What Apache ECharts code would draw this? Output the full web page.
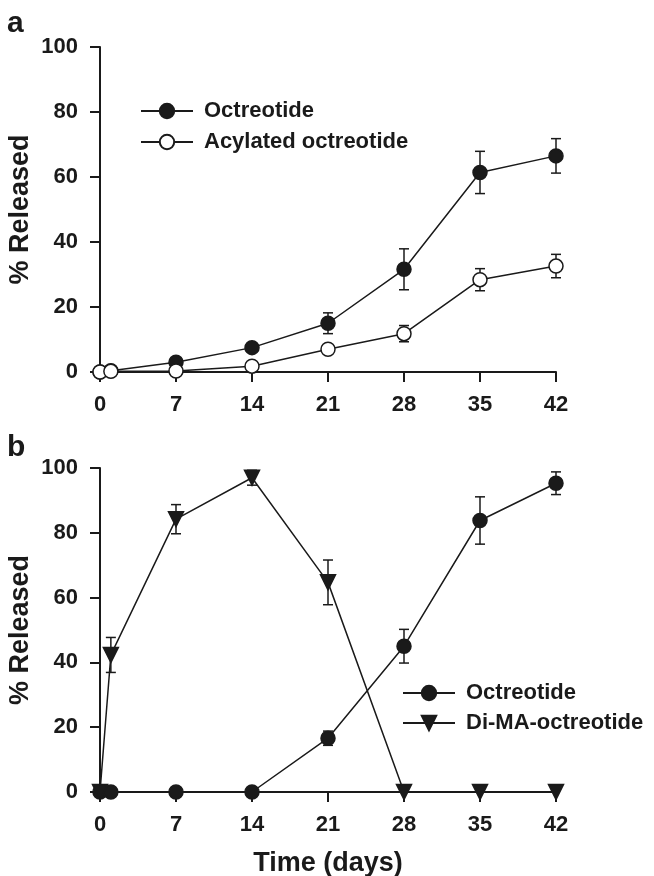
<!DOCTYPE html>
<html>
<head>
<meta charset="utf-8">
<script src="https://cdn.jsdelivr.net/npm/echarts@6/dist/echarts.min.js"></script>
<style>
  html, body { margin: 0; padding: 0; background: #fff; }
  #main { width: 654px; height: 876px; }
</style>
</head>
<body>
<div id="main"></div>
<script>
// days sampled (same for both panels)
var days = [0, 1, 7, 14, 21, 28, 35, 42];

// panel a
var octA = [0, 0.4, 3.0, 7.5, 15.0, 31.6, 61.4, 66.5];
var octAErr = [0, 0, 0.6, 1.0, 3.2, 6.3, 6.5, 5.3];
var acyA = [0, 0.2, 0.3, 1.8, 7.0, 11.8, 28.4, 32.6];
var acyAErr = [0, 0, 0, 0.5, 1.0, 2.5, 3.4, 3.6];

// panel b
var octB = [0, 0, 0, 0, 16.6, 45.0, 83.8, 95.3];
var octBErr = [0, 0, 0, 0, 2.2, 5.2, 7.3, 3.5];
var diB = [0, 42.3, 84.2, 97.0, 64.7, 0, 0, 0];
var diBErr = [0, 5.4, 4.5, 2.3, 6.9, 0, 0, 0];

var fontFam = '"Liberation Sans", Arial, sans-serif';
var ink = '#1a1a1a';

function pts(ys) {
    return days.map(function (d, i) { return [d, ys[i]]; });
}
function errPts(ys, es) {
    var out = [];
    days.forEach(function (d, i) {
        if (es[i] > 0) out.push([d, ys[i] - es[i], ys[i] + es[i]]);
    });
    return out;
}

// error bars drawn with the axis scales
function errRender(params, api) {
    var lo = api.coord([api.value(0), api.value(1)]);
    var hi = api.coord([api.value(0), api.value(2)]);
    var w = 5;
    var st = { stroke: ink, lineWidth: 1.5 };
    return {
        type: 'group',
        children: [
            { type: 'line', shape: { x1: lo[0], y1: lo[1], x2: hi[0], y2: hi[1] }, style: st },
            { type: 'line', shape: { x1: lo[0] - w, y1: lo[1], x2: lo[0] + w, y2: lo[1] }, style: st },
            { type: 'line', shape: { x1: hi[0] - w, y1: hi[1], x2: hi[0] + w, y2: hi[1] }, style: st }
        ]
    };
}

function xAx(idx, withName) {
    var ax = {
        type: 'value', gridIndex: idx, min: 0, max: 42, interval: 7,
        axisLine: { show: true, lineStyle: { color: ink, width: 2 } },
        axisTick: { show: true, length: 10, lineStyle: { color: ink, width: 2 } },
        axisLabel: { color: ink, fontSize: 22, fontWeight: 'bold', fontFamily: fontFam, margin: 22 },
        splitLine: { show: false }
    };
    if (withName) {
        ax.name = 'Time (days)';
        ax.nameLocation = 'middle';
        ax.nameGap = 58;
        ax.nameMoveOverlap = false;
        ax.nameTextStyle = { color: ink, fontSize: 27, fontWeight: 'bold', fontFamily: fontFam };
    }
    return ax;
}
function yAx(idx) {
    return {
        type: 'value', gridIndex: idx, min: 0, max: 100, interval: 20,
        name: '% Released', nameLocation: 'middle', nameGap: 66, nameRotate: 90,
        nameMoveOverlap: false,
        nameTextStyle: { color: ink, fontSize: 27, fontWeight: 'bold', fontFamily: fontFam },
        axisLine: { show: true, lineStyle: { color: ink, width: 2 } },
        axisTick: { show: true, length: 10, lineStyle: { color: ink, width: 2 } },
        axisLabel: { color: ink, fontSize: 22, fontWeight: 'bold', fontFamily: fontFam, margin: 22 },
        splitLine: { show: false }
    };
}

function lineSeries(name, idx, ys, symbol, filled) {
    return {
        name: name, type: 'line', xAxisIndex: idx, yAxisIndex: idx,
        data: pts(ys), z: 5,
        symbol: symbol,
        symbolSize: symbol === 'triangle' ? 15 : 14,
        symbolRotate: symbol === 'triangle' ? 180 : 0,
        showAllSymbol: true,
        lineStyle: { color: ink, width: 1.5 },
        itemStyle: { color: filled ? ink : '#fff', borderColor: ink, borderWidth: 1.5, opacity: 1 }
    };
}
function errSeries(idx, ys, es) {
    return {
        type: 'custom', xAxisIndex: idx, yAxisIndex: idx,
        data: errPts(ys, es), renderItem: errRender, z: 3, silent: true
    };
}

var legendText = { color: ink, fontSize: 22, lineHeight: 24, fontWeight: 'bold', fontFamily: fontFam, padding: [0, 0, 0, 6] };

var chart = echarts.init(document.getElementById('main'));
chart.setOption({
    backgroundColor: '#fff',
    animation: false,
    title: [
        { text: 'a', left: 7, top: 9, padding: 0, textStyle: { color: ink, fontSize: 30, fontWeight: 'bold', fontFamily: fontFam } },
        { text: 'b', left: 7, top: 433, padding: 0, textStyle: { color: ink, fontSize: 30, fontWeight: 'bold', fontFamily: fontFam } }
    ],
    legend: [
        {
            orient: 'vertical', left: 140, top: 99, padding: 0, itemWidth: 52, itemHeight: 18, itemGap: 7,
            data: ['Octreotide', 'Acylated octreotide'], textStyle: legendText, selectedMode: false
        },
        {
            orient: 'vertical', left: 402, top: 681, padding: 0, itemWidth: 52, itemHeight: 18, itemGap: 6,
            data: ['Octreotide', 'Di-MA-octreotide'], textStyle: legendText, selectedMode: false
        }
    ],
    grid: [
        { left: 100, right: 98, top: 47, height: 325, outerBoundsMode: 'none', containLabel: false },
        { left: 100, right: 98, top: 468, height: 324, outerBoundsMode: 'none', containLabel: false }
    ],
    xAxis: [xAx(0, false), xAx(1, true)],
    yAxis: [yAx(0), yAx(1)],
    series: [
        errSeries(0, octA, octAErr),
        errSeries(0, acyA, acyAErr),
        lineSeries('Octreotide', 0, octA, 'circle', true),
        lineSeries('Acylated octreotide', 0, acyA, 'circle', false),
        errSeries(1, octB, octBErr),
        errSeries(1, diB, diBErr),
        lineSeries('Octreotide', 1, octB, 'circle', true),
        lineSeries('Di-MA-octreotide', 1, diB, 'triangle', true)
    ]
});
</script>
</body>
</html>
